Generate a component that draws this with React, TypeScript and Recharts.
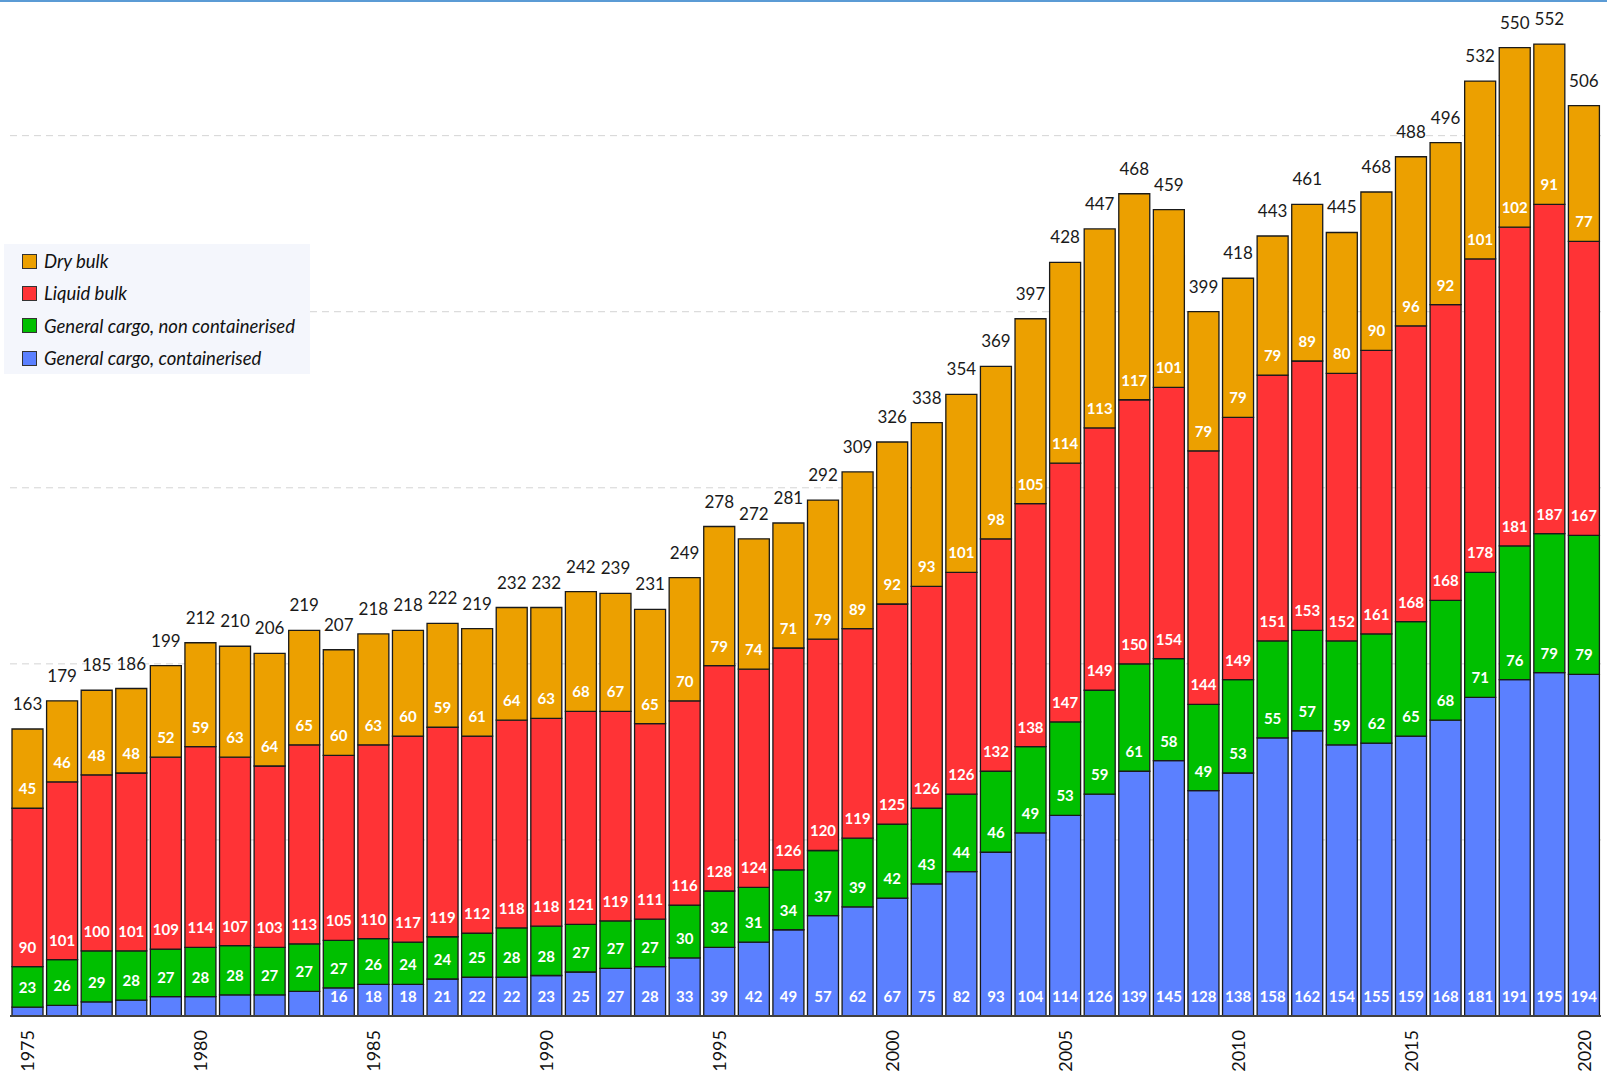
import { BarChart, Bar, XAxis, YAxis, CartesianGrid, LabelList } from 'recharts';

const years = [
  1975, 1976, 1977, 1978, 1979, 1980, 1981, 1982, 1983, 1984, 1985, 1986, 1987, 1988, 1989, 1990,
  1991, 1992, 1993, 1994, 1995, 1996, 1997, 1998, 1999, 2000, 2001, 2002, 2003, 2004, 2005, 2006,
  2007, 2008, 2009, 2010, 2011, 2012, 2013, 2014, 2015, 2016, 2017, 2018, 2019, 2020,
];

const containerised = [
  5, 6, 8, 9, 11, 11, 12, 12, 14, 16, 18, 18, 21, 22, 22, 23, 25, 27, 28, 33, 39, 42, 49, 57, 62, 67,
  75, 82, 93, 104, 114, 126, 139, 145, 128, 138, 158, 162, 154, 155, 159, 168, 181, 191, 195, 194,
];

const nonContainerised = [
  23, 26, 29, 28, 27, 28, 28, 27, 27, 27, 26, 24, 24, 25, 28, 28, 27, 27, 27, 30, 32, 31, 34, 37, 39, 42,
  43, 44, 46, 49, 53, 59, 61, 58, 49, 53, 55, 57, 59, 62, 65, 68, 71, 76, 79, 79,
];

const liquidBulk = [
  90, 101, 100, 101, 109, 114, 107, 103, 113, 105, 110, 117, 119, 112, 118, 118, 121, 119, 111, 116,
  128, 124, 126, 120, 119, 125, 126, 126, 132, 138, 147, 149, 150, 154, 144, 149, 151, 153, 152, 161,
  168, 168, 178, 181, 187, 167,
];

const dryBulk = [
  45, 46, 48, 48, 52, 59, 63, 64, 65, 60, 63, 60, 59, 61, 64, 63, 68, 67, 65, 70, 79, 74, 71, 79, 89,
  92, 93, 101, 98, 105, 114, 113, 117, 101, 79, 79, 79, 89, 80, 90, 96, 92, 101, 102, 91, 77,
];

const totals = [
  163, 179, 185, 186, 199, 212, 210, 206, 219, 207, 218, 218, 222, 219, 232, 232, 242, 239, 231, 249,
  278, 272, 281, 292, 309, 326, 338, 354, 369, 397, 428, 447, 468, 459, 399, 418, 443, 461, 445, 468,
  488, 496, 532, 550, 552, 506,
];

const gridValues = [100, 200, 300, 400, 500];

const series = [
  { key: 'containerised', name: 'General cargo, containerised', color: '#5b80ff' },
  { key: 'nonContainerised', name: 'General cargo, non containerised', color: '#00bf00' },
  { key: 'liquidBulk', name: 'Liquid bulk', color: '#ff3336' },
  { key: 'dryBulk', name: 'Dry bulk', color: '#eca000' },
];

const data = years.map((year, i) => ({
  year,
  containerised: containerised[i],
  nonContainerised: nonContainerised[i],
  liquidBulk: liquidBulk[i],
  dryBulk: dryBulk[i],
  total: totals[i],
}));

const FONT = 'Lato, "Open Sans", sans-serif';

function segmentLabel(props: any) {
  const { x, y, width, height, value } = props;
  if (value == null || Number(value) < 15) return null;
  return (
    <text
      x={Number(x) + Number(width) / 2}
      y={Number(y) + Number(height) - 14}
      textAnchor="middle"
      fill="#ffffff"
      fontFamily={FONT}
      fontWeight={700}
      fontSize={15}
    >
      {value}
    </text>
  );
}

function totalLabel(props: any) {
  const { x, y, width, value } = props;
  return (
    <text
      x={Number(x) + Number(width) / 2}
      y={Number(y) - 19}
      textAnchor="middle"
      fill="#1a1a1a"
      fontFamily={FONT}
      fontSize={17}
    >
      {value}
    </text>
  );
}

function YearTick({ x, y, payload }: any) {
  if (Number(payload.value) % 5 !== 0) return null;
  return (
    <text
      x={x}
      y={y}
      transform={`rotate(-90 ${x} ${y})`}
      textAnchor="end"
      dominantBaseline="central"
      fill="#111"
      fontFamily={FONT}
      fontSize={18}
    >
      {payload.value}
    </text>
  );
}

function LegendBox() {
  const items = [...series].reverse();
  return (
    <div
      style={{
        position: 'absolute',
        left: 4,
        top: 244,
        background: '#f4f6fc',
        width: 306,
        height: 130,
        boxSizing: 'border-box',
        padding: '1px 0 0 18px',
        fontFamily: FONT,
        fontStyle: 'italic',
        fontSize: 18.5,
        color: '#111',
      }}
    >
      {items.map((s) => (
        <div key={s.key} style={{ display: 'flex', alignItems: 'center', height: 32.3 }}>
          <span
            style={{
              display: 'inline-block',
              width: 13,
              height: 13,
              background: s.color,
              border: '1px solid #333',
              marginRight: 7,
            }}
          />
          <span>{s.name}</span>
        </div>
      ))}
    </div>
  );
}

export default function App() {
  return (
    <div style={{ position: 'absolute', left: 0, top: 0, width: 1607, height: 1072, background: '#fff', overflow: 'hidden' }}>
      <div style={{ position: 'absolute', left: 0, top: 0, width: 1607, height: 2, background: '#5b9bd5' }} />
      <BarChart
        width={1607}
        height={1072}
        data={data}
        margin={{ top: 30, right: 6, left: 10, bottom: 0 }}
        barSize={31}
      >
        <CartesianGrid vertical={false} horizontalValues={gridValues} stroke="#d4d4d4" strokeDasharray="7 5" />
        <XAxis
          dataKey="year"
          interval={0}
          tickLine={false}
          tickSize={0}
          tickMargin={14}
          height={56}
          axisLine={{ stroke: '#404040', strokeWidth: 2 }}
          tick={<YearTick />}
        />
        <YAxis hide domain={[0, 560]} ticks={gridValues} allowDataOverflow />
        {series.map((s) => (
          <Bar
            key={s.key}
            dataKey={s.key}
            name={s.name}
            stackId="a"
            fill={s.color}
            stroke="#1a1a1a"
            strokeWidth={1.3}
            isAnimationActive={false}
          >
            <LabelList dataKey={s.key} content={segmentLabel} />
            {s.key === 'dryBulk' ? <LabelList dataKey="total" content={totalLabel} /> : null}
          </Bar>
        ))}
      </BarChart>
      <LegendBox />
    </div>
  );
}
